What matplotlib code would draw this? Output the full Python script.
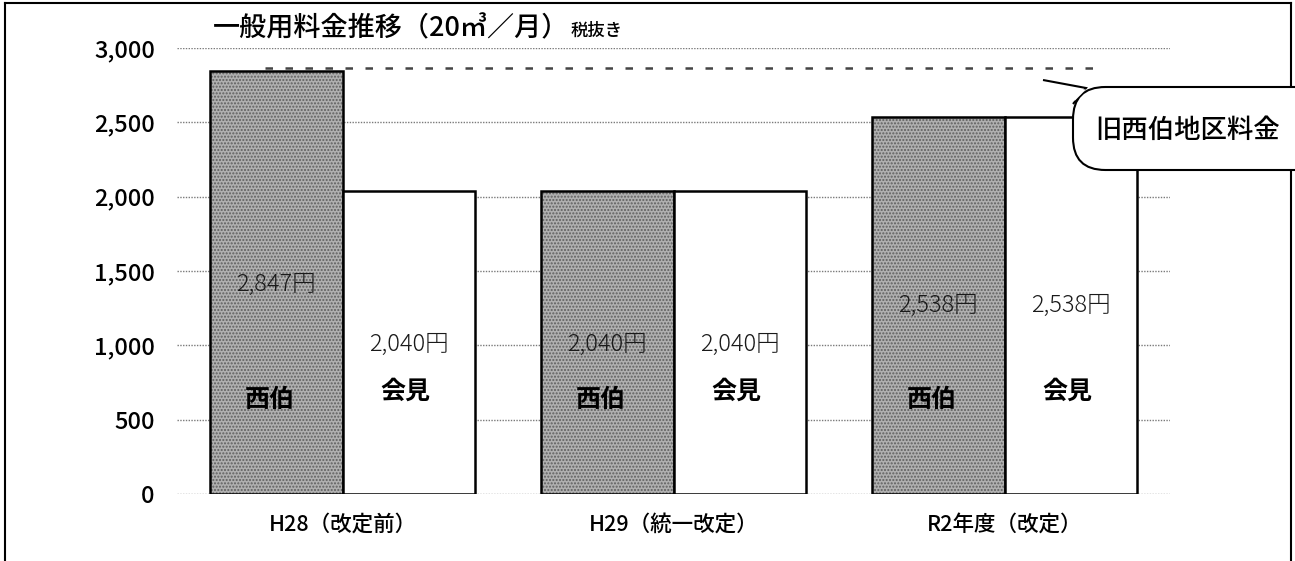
import matplotlib
matplotlib.use('Agg')
import matplotlib.pyplot as plt
import numpy as np
from matplotlib.patches import FancyBboxPatch, Polygon
from matplotlib.lines import Line2D

plt.rcParams['font.family'] = ['Noto Sans CJK JP', 'DejaVu Sans']

# データ
periods = ['H28（改定前）', 'H29（統一改定）', 'R2年度（改定）']
nishiki = [2847, 2040, 2538]
aimi = [2040, 2040, 2538]
old_nishiki_line = 2865
y_ticks = [0, 500, 1000, 1500, 2000, 2500, 3000]
title = '一般用料金推移（20㎥／月）'
title_sub = '税抜き'
callout = '旧西伯地区料金'

fig = plt.figure(figsize=(12.95, 5.61), dpi=100)
ax = fig.add_axes([0.1367, 0.1194, 0.7668, 0.795])

x = np.arange(len(periods))
w = 0.40

# 西伯 (灰色テクスチャ)
plt.rcParams['hatch.color'] = '#5f5f5f'
plt.rcParams['hatch.linewidth'] = 1.0
ax.bar(x - w / 2, nishiki, w, color='#b0b0b0', hatch='.....', linewidth=0, zorder=2)
ax.bar(x - w / 2, nishiki, w, fill=False, edgecolor='black', linewidth=1.8, zorder=3)
# 会見
ax.bar(x + w / 2, aimi, w, color='white', edgecolor='black', linewidth=1.8, zorder=3)

# 旧西伯の料金ライン
ax.plot([-0.234, 2.273], [old_nishiki_line, old_nishiki_line], color='#444444',
        linestyle=(0, (3, 5)), linewidth=1.8, zorder=1)

ax.set_xlim(-0.5, 2.5)
ax.set_ylim(0, 3000)
ax.set_yticks(y_ticks)
ax.set_yticklabels([f'{v:,}' for v in y_ticks], fontsize=17, fontweight='medium')
ax.set_xticks(x)
ax.set_xticklabels(periods, fontsize=15.5, fontweight='medium')
ax.tick_params(axis='both', length=0)
ax.tick_params(axis='y', pad=16)
ax.tick_params(axis='x', pad=14)
for s in ax.spines.values():
    s.set_visible(False)
ax.yaxis.grid(True, color='#7a7a7a', linestyle=(0, (1, 1)), linewidth=1.0, zorder=0)
ax.set_axisbelow(True)

# 値ラベル・名前ラベル
for i in range(len(periods)):
    ny = 1410 if nishiki[i] > 2700 else (1005 if nishiki[i] < 2100 else 1270)
    ay = 1005 if aimi[i] < 2100 else 1270
    ax.text(x[i] - w / 2, ny, f'{nishiki[i]:,}円', ha='center', va='center',
            fontsize=17, fontweight='light', color='#1a1a1a', zorder=4)
    ax.text(x[i] + w / 2, ay, f'{aimi[i]:,}円', ha='center', va='center',
            fontsize=17, fontweight='light', color='#1a1a1a', zorder=4)
    ax.text(x[i] - w / 2 - 0.02, 630, '西伯', ha='center', va='center',
            fontsize=18, fontweight='bold', zorder=4)
    ax.text(x[i] + w / 2 - 0.01, 690, '会見', ha='center', va='center',
            fontsize=18, fontweight='bold', zorder=4)

W, H = 1295, 561

# タイトル
t = fig.text(213 / W, 1 - 29 / H, title, ha='left', va='center', fontsize=19.5, fontweight='medium')
fig.add_artist(plt.Annotation(title_sub, xy=(1, 0.42), xycoords=t, xytext=(1, 0),
                              textcoords='offset points', ha='left', va='center',
                              fontsize=12.5, fontweight='medium'))

# 外枠
for xs, ys in [([5, 5], [0, 558]), ([5, 1291], [558, 558]), ([1291, 1291], [0, 558])]:
    fig.add_artist(Line2D([v / W for v in xs], [v / H for v in ys], color='black',
                          linewidth=1.5, transform=fig.transFigure, zorder=1))

# 吹き出し
box = FancyBboxPatch((1073 / W, 1 - 170 / H), 260 / W, 83 / H,
                     boxstyle='round,pad=0,rounding_size=0.025', transform=fig.transFigure,
                     facecolor='white', edgecolor='black', linewidth=1.5, mutation_aspect=W / H,
                     zorder=5)
fig.add_artist(box)
tri = Polygon([(1043 / W, 1 - 80 / H), (1086 / W, 1 - 88 / H), (1073 / W, 1 - 104 / H)],
              closed=False, transform=fig.transFigure, facecolor='white',
              edgecolor='black', linewidth=1.5, zorder=6)
fig.add_artist(tri)
fig.add_artist(Polygon([(1075 / W, 1 - 88.5 / H), (1086 / W, 1 - 89.5 / H), (1074.5 / W, 1 - 101 / H)],
                       closed=True, transform=fig.transFigure, facecolor='white',
                       edgecolor='none', zorder=7))
fig.text(1188 / W, 1 - 130 / H, callout, ha='center', va='center', fontsize=19,
         fontweight='medium', zorder=8)

fig.savefig('out.png', dpi=100)
